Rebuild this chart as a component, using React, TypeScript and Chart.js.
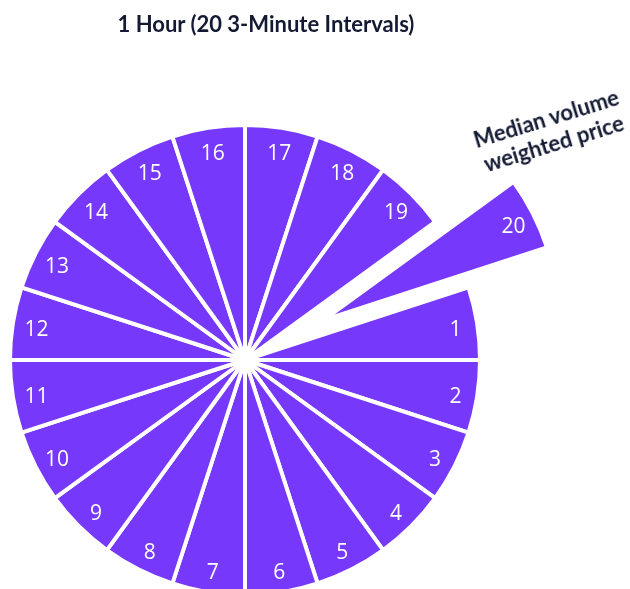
import React, { useEffect, useRef } from 'react';
import { Chart, registerables } from 'chart.js';

Chart.register(...registerables);

// ---- data ----
const intervalLabels = ['1', '2', '3', '4', '5', '6', '7', '8', '9', '10', '11', '12', '13', '14', '15', '16', '17', '18', '19', '20'];
const intervalMinutes = [3, 3, 3, 3, 3, 3, 3, 3, 3, 3, 3, 3, 3, 3, 3, 3, 3, 3, 3, 3];
const explodedInterval = '20';
const chartTitle = '1 Hour (20 3-Minute Intervals)';
const annotationLines = ['Median volume', 'weighted price'];

// ---- style ----
const PURPLE = '#7638fa';
const INK = '#141a33';
const EXPLODE = 88;
const LABEL_RATIO = 0.903;
const LABEL_DY = 3.5;

const explodePlugin = {
  id: 'explodeSlice',
  afterDatasetsUpdate(chart: any) {
    const meta = chart.getDatasetMeta(0);
    meta.data.forEach((el: any, i: number) => {
      if (intervalLabels[i] === explodedInterval) {
        const mid = (el.startAngle + el.endAngle) / 2;
        el.x += Math.cos(mid) * EXPLODE;
        el.y += Math.sin(mid) * EXPLODE;
      }
    });
  },
};

const sliceLabelPlugin = {
  id: 'sliceLabels',
  afterDatasetsDraw(chart: any) {
    const ctx = chart.ctx;
    const meta = chart.getDatasetMeta(0);
    ctx.save();
    ctx.fillStyle = '#ffffff';
    ctx.font = '400 21px "Open Sans", sans-serif';
    ctx.textAlign = 'center';
    ctx.textBaseline = 'middle';
    meta.data.forEach((el: any, i: number) => {
      const mid = (el.startAngle + el.endAngle) / 2;
      const r = el.outerRadius * LABEL_RATIO;
      ctx.fillText(String(chart.data.labels[i]), el.x + Math.cos(mid) * r + 1, el.y + Math.sin(mid) * r + LABEL_DY);
    });
    ctx.restore();
  },
};

export default function App() {
  const canvasRef = useRef<HTMLCanvasElement | null>(null);

  useEffect(() => {
    if (!canvasRef.current) return;
    const chart = new Chart(canvasRef.current, {
      type: 'pie',
      data: {
        labels: intervalLabels,
        datasets: [
          {
            data: intervalMinutes,
            backgroundColor: PURPLE,
            borderColor: '#ffffff',
            borderWidth: 4,
            hoverOffset: 0,
            clip: false,
          } as any,
        ],
      },
      options: {
        animation: false,
        responsive: true,
        maintainAspectRatio: false,
        rotation: 72,
        radius: 235,
        events: [],
        layout: { padding: { left: 0, right: 140, top: 131, bottom: 0 } },
        plugins: {
          legend: { display: false },
          tooltip: { enabled: false },
        },
      } as any,
      plugins: [explodePlugin, sliceLabelPlugin],
    });
    return () => chart.destroy();
  }, []);

  return (
    <div style={{ position: 'absolute', left: 0, top: 0, width: 630, height: 589, overflow: 'hidden', background: '#fff' }}>
      <div style={{ position: 'absolute', left: 0, top: 0, width: 630, height: 589 }}>
        <canvas ref={canvasRef} />
      </div>
      <div
        style={{
          position: 'absolute',
          left: 66,
          top: 13,
          width: 400,
          textAlign: 'center',
          fontFamily: 'Lato, sans-serif',
          fontWeight: 700,
          fontSize: 22,
          lineHeight: '22px',
          color: INK,
          whiteSpace: 'nowrap',
        }}
      >
        {chartTitle}
      </div>
      <div
        style={{
          position: 'absolute',
          left: 440,
          top: 105,
          width: 220,
          height: 52,
          textAlign: 'center',
          fontFamily: 'Lato, sans-serif',
          fontWeight: 700,
          fontSize: 22,
          lineHeight: '26px',
          color: INK,
          whiteSpace: 'nowrap',
          transform: 'rotate(-17deg)',
          transformOrigin: '50% 50%',
        }}
      >
        {annotationLines.map((l) => (
          <div key={l}>{l}</div>
        ))}
      </div>
    </div>
  );
}
